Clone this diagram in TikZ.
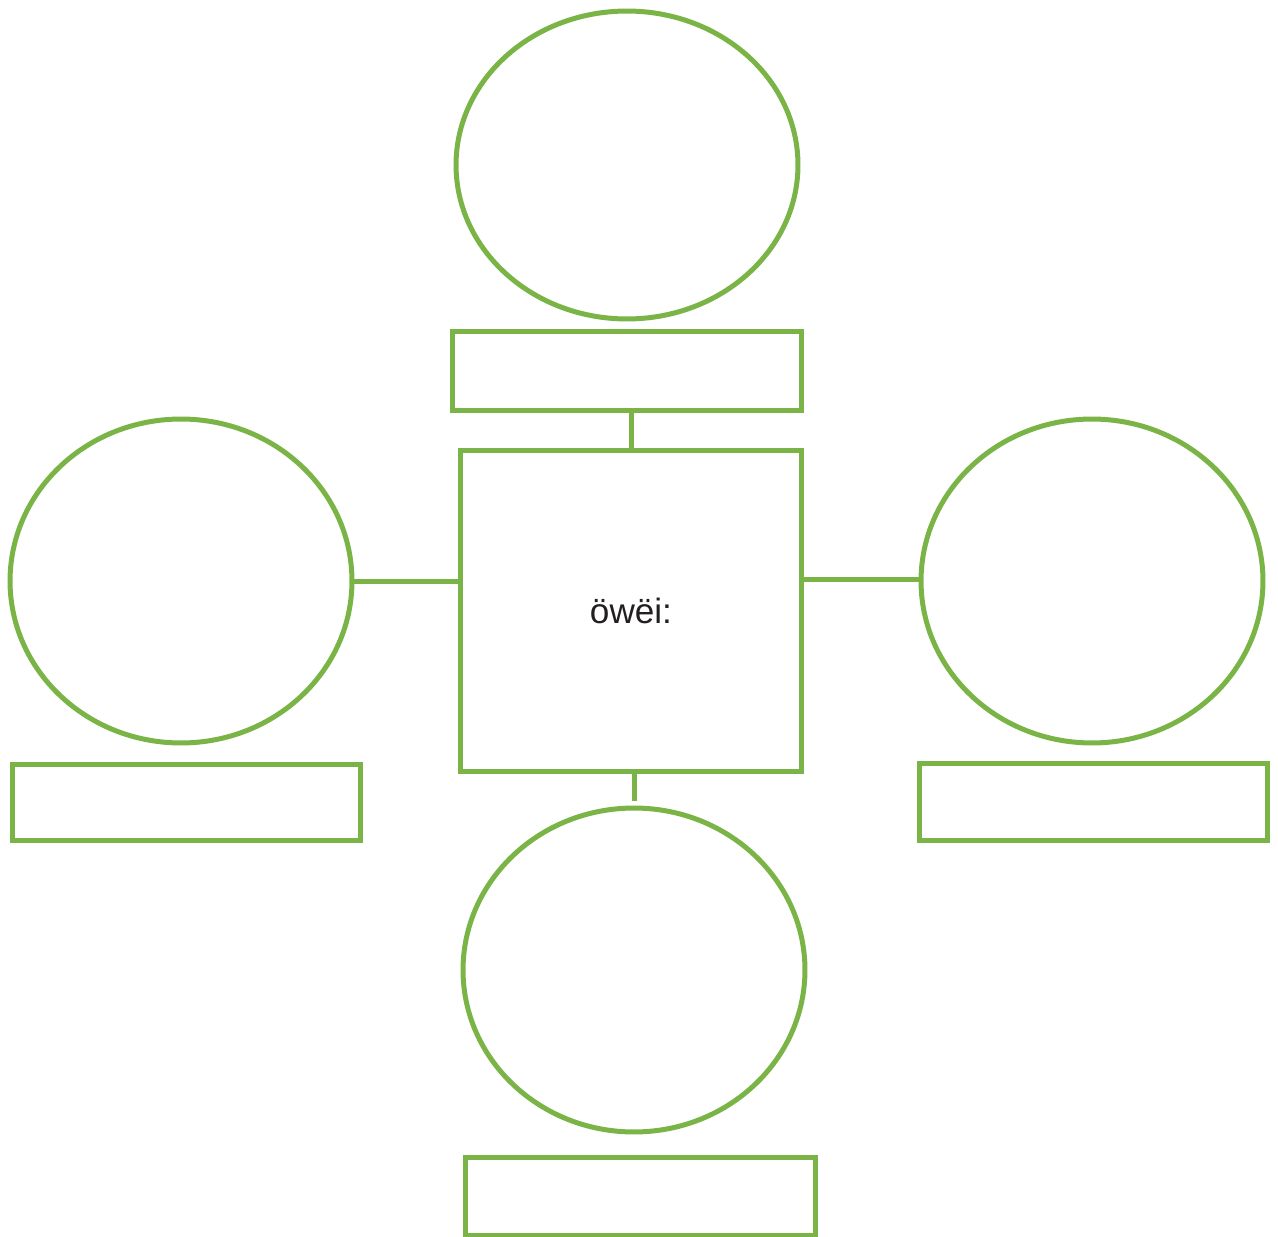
\documentclass[tikz,border=0pt]{standalone}
\usepackage{fontspec}
\setmainfont{Liberation Sans}
\usetikzlibrary{shapes.geometric}
\definecolor{leafgreen}{HTML}{7AB447}
\definecolor{inkgray}{HTML}{231F20}

\begin{document}
\begin{tikzpicture}[
  x=0.02cm, y=-0.02cm,
  bubble/.style={ellipse, draw=leafgreen, line width=0.1cm, minimum width=6.84cm, minimum height=6.48cm, inner sep=0pt},
  labelbox/.style={rectangle, draw=leafgreen, line width=0.1cm, minimum width=6.98cm, minimum height=1.54cm, inner sep=0pt},
  hubbox/.style={rectangle, draw=leafgreen, line width=0.1cm, minimum width=6.84cm, minimum height=6.44cm, inner sep=0pt, font=\fontsize{20}{24}\selectfont, text=inkgray},
  link/.style={draw=leafgreen, line width=0.1cm}
]
  \useasboundingbox (0,0) rectangle (1278,1237);

  % centre
  \node[hubbox] (hub) at (631,611) {öwëi:};

  % top
  \node[bubble, minimum height=6.16cm] (topbub) at (627,165) {};
  \node[labelbox, minimum width=7cm, minimum height=1.6cm] (toplab) at (627,371) {};
  \draw[link] (toplab.south -| hub.north) -- (hub.north);

  % left
  \node[bubble] (leftbub) at (181,581) {};
  \node[labelbox, minimum height=1.52cm] (leftlab) at (186.5,802) {};
  \draw[link] (leftbub.east) -- (leftbub.east -| hub.west);

  % right
  \node[bubble] (rightbub) at (1092,581) {};
  \node[labelbox] (rightlab) at (1093.5,801.5) {};
  \draw[link] (hub.east |- 0,579) -- (rightbub.west |- 0,579);

  % bottom
  \node[bubble] (botbub) at (634,970) {};
  \node[labelbox, minimum width=7.02cm, minimum height=1.56cm] (botlab) at (640.5,1196) {};
  \coordinate (botend) at (634,801);
  \draw[link] (botend |- hub.south) -- (botend);
\end{tikzpicture}
\end{document}
